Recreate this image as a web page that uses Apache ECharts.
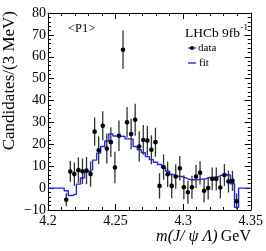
<!DOCTYPE html>
<html>
<head>
<meta charset="utf-8">
<script src="https://cdn.jsdelivr.net/npm/echarts@6/dist/echarts.min.js"></script>
<style>html,body{margin:0;padding:0;background:#fff}#c{width:266px;height:251px}</style>
</head>
<body>
<div id="c"></div>
<script>
// ---- data ----
const dataMass = [4.2135,4.2165,4.2195,4.2225,4.2255,4.2285,4.2315,4.2345,4.2375,4.2405,4.2435,4.2465,4.2495,4.2525,4.2555,4.2585,4.2615,4.2645,4.2675,4.2705,4.2735,4.2765,4.2795,4.2825,4.2855,4.2885,4.2915,4.2945,4.2975,4.3005,4.3035,4.3065,4.3095,4.3125,4.3155,4.3185,4.3215,4.3245,4.3275,4.3305,4.3335,4.3365,4.3395];
const dataCounts = [-5.3,7.6,6.4,8.2,7.7,8.0,6.4,25.8,17.3,28.5,18.1,21.0,9.4,23.9,63.2,30.1,24.7,31.2,19.0,22.0,21.7,17.5,21.0,1.0,9.6,6.3,1.0,5.3,9.1,0.4,-1.9,0.4,5.3,7.0,-1.2,0.0,4.2,4.2,0.3,6.0,3.0,3.3,-6.0];
const dataErrors = [3.0,4.8,5.3,5.8,5.8,6.2,5.8,6.5,6.3,6.6,6.8,6.8,7.2,7.0,8.8,7.0,7.0,7.3,7.0,6.8,6.8,6.6,6.6,5.8,5.8,5.8,5.6,5.6,5.6,5.5,5.3,5.3,5.3,5.3,5.3,5.2,5.2,5.2,5.0,5.0,5.0,4.6,3.6];
const fitMass = [4.2015,4.2045,4.2075,4.2105,4.2135,4.2165,4.2195,4.2225,4.2255,4.2285,4.2315,4.2345,4.2375,4.2405,4.2435,4.2465,4.2495,4.2525,4.2555,4.2585,4.2615,4.2645,4.2675,4.2705,4.2735,4.2765,4.2795,4.2825,4.2855,4.2885,4.2915,4.2945,4.2975,4.3005,4.3035,4.3065,4.3095,4.3125,4.3155,4.3185,4.3215,4.3245,4.3275,4.3305,4.3335,4.3365,4.3395,4.3425,4.3455,4.3485];
const fitValues = [0,0,0,0,-1.2,-3.4,-2.7,1.8,4.6,7.4,8.3,12.8,16.0,19.0,21.5,24.8,23.8,23.7,23.6,22.5,22.4,19.0,17.5,16.2,14.4,13.0,11.8,10.8,9.3,7.7,6.2,5.4,5.3,4.7,3.9,3.8,3.9,4.1,4.3,4.9,5.0,5.2,6.0,6.1,6.0,2.0,-8.8,0,0,0];
const fitHalfWidth = 0.0015;
const xTickLabels = {'4.2':'4.2','4.25':'4.25','4.3':'4.3','4.35':'4.35'};

// ---- build series ----
const fitLine = [];
fitMass.forEach((m,i)=>{ fitLine.push([m-fitHalfWidth, fitValues[i]]); fitLine.push([m+fitHalfWidth, fitValues[i]]); });
const pts = dataMass.map((m,i)=>[m, dataCounts[i], dataErrors[i]]);

const FONT = 'Liberation Serif';
const chart = echarts.init(document.getElementById('c'), null, {renderer:'canvas'});
const axisCommon = {
  axisLine:{show:true, onZero:false, lineStyle:{color:'#000', width:1}},
  axisTick:{show:true, inside:true, length:6, lineStyle:{color:'#000', width:1}},
  minorTick:{show:true, splitNumber:5, length:3, lineStyle:{color:'#000', width:1}},
  splitLine:{show:false}
};
chart.setOption({
  animation:false,
  grid:{left:48, right:14, top:13, bottom:41},
  xAxis:[
    Object.assign({type:'value', min:4.2, max:4.35, interval:0.05, position:'bottom',
      axisLabel:{fontFamily:FONT, fontSize:14, color:'#000', margin:4,
        formatter:v=>xTickLabels[String(Math.round(v*100)/100)] || ''}}, axisCommon),
    Object.assign({type:'value', min:4.2, max:4.35, interval:0.05, position:'top', axisLabel:{show:false}}, axisCommon)
  ],
  yAxis:[
    Object.assign({type:'value', min:-10, max:80, interval:10, position:'left',
      axisLabel:{fontFamily:FONT, fontSize:14, color:'#000', margin:2,
        formatter:v=>(v<0?'\u2212'+Math.abs(v):String(v))}}, axisCommon),
    Object.assign({type:'value', min:-10, max:80, interval:10, position:'right', axisLabel:{show:false}}, axisCommon)
  ],
  series:[
    {type:'line', name:'fit', data:fitLine, showSymbol:false, symbol:'none',
     lineStyle:{color:'#1f1fff', width:1.4}, z:2},
    {type:'custom', name:'data', data:pts, z:3,
     renderItem:(params, api)=>{
       const x = api.value(0), y = api.value(1), e = api.value(2);
       const c = api.coord([x,y]);
       const lo = api.coord([x,y-e]), hi = api.coord([x,y+e]);
       return {type:'group', children:[
         {type:'line', shape:{x1:c[0], y1:hi[1], x2:c[0], y2:lo[1]}, style:{stroke:'#333', lineWidth:1.3}},
         {type:'circle', shape:{cx:c[0], cy:c[1], r:2.3}, style:{fill:'#000'}}
       ]};
     }}
  ],
  graphic:[
    {type:'text', x:10, y:11, rotation:Math.PI/2,
     style:{text:'Candidates/(3 MeV)', font:'17px "Liberation Serif"', fill:'#000', align:'right', verticalAlign:'middle'}},
    {type:'text', x:251, y:237,
     style:{text:'{i|m(J/ ψ Λ)} {n|GeV}', align:'right', verticalAlign:'middle',
       rich:{i:{fontFamily:FONT, fontSize:16, fontStyle:'italic', fill:'#000'}, n:{fontFamily:FONT, fontSize:16, fill:'#000'}}}},
    {type:'text', x:68, y:29, style:{text:'<P1>', font:'12.5px "Liberation Serif"', fill:'#000', align:'left', verticalAlign:'middle'}},
    {type:'text', x:240, y:33, style:{text:'LHCb 9fb', font:'13.5px "Liberation Serif"', fill:'#000', align:'right', verticalAlign:'middle'}},
    {type:'text', x:240.5, y:27.5, z:10, style:{text:'-1', font:'9px "Liberation Serif"', fill:'#000', align:'left', verticalAlign:'middle'}},
    {type:'line', shape:{x1:188, y1:48, x2:196, y2:48}, style:{stroke:'#000', lineWidth:1}},
    {type:'circle', shape:{cx:192, cy:48, r:2}, style:{fill:'#000'}},
    {type:'text', x:198, y:48, style:{text:'data', font:'11px "Liberation Serif"', fill:'#000', align:'left', verticalAlign:'middle'}},
    {type:'line', shape:{x1:188, y1:63, x2:196, y2:63}, style:{stroke:'#1f1fff', lineWidth:1.4}},
    {type:'text', x:199, y:63, style:{text:'fit', font:'11px "Liberation Serif"', fill:'#000', align:'left', verticalAlign:'middle'}}
  ]
});
</script>
</body>
</html>
